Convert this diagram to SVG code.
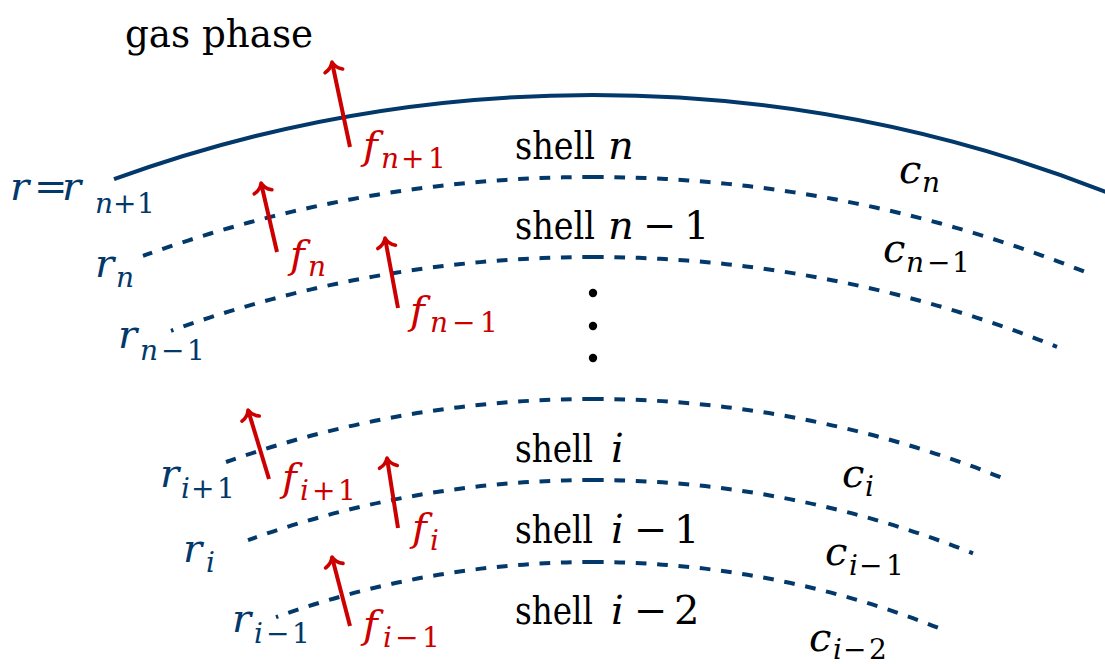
<svg xmlns="http://www.w3.org/2000/svg" width="1105" height="664" viewBox="0 0 1105 664">
<style>
.arc{fill:none;stroke:#02386a;stroke-width:4}
.dash{stroke-dasharray:10.7 10.7}
.flux{fill:none;stroke:#cc0000;stroke-width:4;marker-end:url(#ah)}
text{font-family:'DejaVu Serif','Liberation Serif',serif;font-size:40px;fill:#000}
text.sub,tspan.sub{font-size:28px}
.it{font-style:italic}
text.blue{fill:#02386a}
text.red{fill:#cc0000}
</style>
<defs>
<marker id="ah" markerUnits="userSpaceOnUse" orient="auto" overflow="visible" markerWidth="1" markerHeight="1" refX="0" refY="0">
<path d="M -7,-9 C -5,-4 -1,-1 2,0 C -1,1 -5,4 -7,9" fill="none" stroke="#cc0000" stroke-width="3.6" stroke-linecap="round" stroke-linejoin="round"/>
</marker>
</defs>
<g id="shells">
<g id="surface"><path class="arc" d="M593,95 A1405,1405 0 0 0 114,179.2"/><path class="arc" d="M593,95 A1405,1405 0 0 1 1108,192.8"/></g>
<g id="arc-rn"><path class="arc dash" d="M593,177 A1323,1323 0 0 0 143,255.9"/><path class="arc dash" d="M593,177 A1323,1323 0 0 1 1087,272.7"/></g>
<g id="arc-rn1"><path class="arc dash" d="M593,257 A1243,1243 0 0 0 171,330.8"/><path class="arc dash" d="M593,257 A1243,1243 0 0 1 1057,346.8"/></g>
<g id="arc-ri1"><path class="arc dash" d="M593,399 A1101,1101 0 0 0 226,462"/><path class="arc dash" d="M593,399 A1101,1101 0 0 1 1003,478.2"/></g>
<g id="arc-ri"><path class="arc dash" d="M593,480 A1020,1020 0 0 0 248,540.1"/><path class="arc dash" d="M593,480 A1020,1020 0 0 1 973,553.4"/></g>
<g id="arc-rim1"><path class="arc dash" d="M593,562 A938,938 0 0 0 276,617.2"/><path class="arc dash" d="M593,562 A938,938 0 0 1 943,629.7"/></g>
</g>
<g id="connectors">
<path class="flux" d="M350,147 L332.4,64"/>
<path class="flux" d="M277,252 L261.5,185"/>
<path class="flux" d="M398,308 L385.4,240"/>
<path class="flux" d="M269,479 L248.6,411.9"/>
<path class="flux" d="M398,528 L387.3,460"/>
<path class="flux" d="M350,626 L332.5,558.9"/>
</g>
<g id="dots" fill="#000"><circle cx="593" cy="293" r="4.2"/><circle cx="593" cy="326" r="4.2"/><circle cx="593" cy="358" r="4.2"/></g>
<g id="gas"><text x="125" y="47" textLength="188" lengthAdjust="spacingAndGlyphs">gas phase</text></g>
<g id="shell-labels">
<text x="515" y="159" textLength="80" lengthAdjust="spacingAndGlyphs">shell</text><text class="it" x="608" y="159">n</text>
<text x="515" y="239" textLength="80" lengthAdjust="spacingAndGlyphs">shell</text><text y="239"><tspan class="it" x="608">n</tspan><tspan x="643 684">−1</tspan></text>
<text x="515" y="462" textLength="78" lengthAdjust="spacingAndGlyphs">shell</text><text class="it" x="611" y="462">i</text>
<text x="515" y="543" textLength="78" lengthAdjust="spacingAndGlyphs">shell</text><text y="543"><tspan class="it" x="611">i</tspan><tspan x="634 674">−1</tspan></text>
<text x="515" y="624" textLength="78" lengthAdjust="spacingAndGlyphs">shell</text><text y="624"><tspan class="it" x="611">i</tspan><tspan x="634 674">−2</tspan></text>
</g>
<g id="r-labels">
<text class="blue" y="200"><tspan class="it" x="10">r</tspan><tspan x="34">=</tspan><tspan class="it" x="62">r</tspan><tspan class="sub it" x="95" y="213">n</tspan><tspan class="sub" x="113 137" y="213">+1</tspan></text>
<text class="blue it" x="95" y="277">r</text><text class="sub blue it" x="116" y="287">n</text>
<text class="blue it" x="118" y="348">r</text><text class="sub blue" y="360"><tspan class="it" x="140">n</tspan><tspan x="161 187">−1</tspan></text>
<text class="blue it" x="160" y="487">r</text><text class="sub blue" y="498"><tspan class="it" x="181">i</tspan><tspan x="191 217">+1</tspan></text>
<text class="blue it" x="183" y="562">r</text><text class="sub blue it" x="206" y="572">i</text>
<text class="blue it" x="232" y="632">r</text><text class="sub blue" y="643"><tspan class="it" x="254">i</tspan><tspan x="266 292">−1</tspan></text>
</g>
<g id="f-labels">
<text class="red it" x="363" y="159">f</text><text class="sub red" y="168"><tspan class="it" x="381">n</tspan><tspan x="401 428">+1</tspan></text>
<text class="red it" x="290" y="268">f</text><text class="sub red it" x="308" y="276">n</text>
<text class="red it" x="410" y="324">f</text><text class="sub red" y="332"><tspan class="it" x="430">n</tspan><tspan x="452 480">−1</tspan></text>
<text class="red it" x="282" y="491">f</text><text class="sub red" y="500"><tspan class="it" x="300">i</tspan><tspan x="312 338">+1</tspan></text>
<text class="red it" x="412" y="541">f</text><text class="sub red it" x="430" y="550">i</text>
<text class="red it" x="363" y="638">f</text><text class="sub red" y="647"><tspan class="it" x="383">i</tspan><tspan x="395 422">−1</tspan></text>
</g>
<g id="c-labels">
<text class="it" x="899" y="183">c</text><text class="sub it" x="922" y="192">n</text>
<text class="it" x="883" y="262">c</text><text class="sub" y="272"><tspan class="it" x="906">n</tspan><tspan x="927 952">−1</tspan></text>
<text class="it" x="842" y="487">c</text><text class="sub it" x="865" y="496">i</text>
<text class="it" x="825" y="565">c</text><text class="sub" y="575"><tspan class="it" x="849">i</tspan><tspan x="859 886">−1</tspan></text>
<text class="it" x="809" y="651">c</text><text class="sub" y="659"><tspan class="it" x="833">i</tspan><tspan x="843 869">−2</tspan></text>
</g>
</svg>
